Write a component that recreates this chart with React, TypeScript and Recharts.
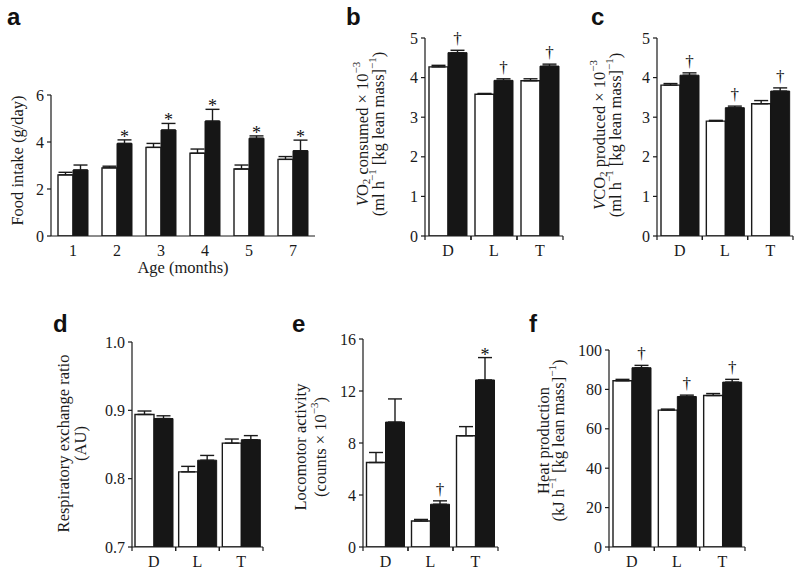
import React from 'react';
import { BarChart, Bar, XAxis, YAxis, ErrorBar, LabelList, Label } from 'recharts';

// panel a: food intake by age
const months = ['1', '2', '3', '4', '5', '7'];
const intakeCtrl = [2.6, 2.9, 3.77, 3.52, 2.85, 3.26];
const intakeCtrlErr = [0.11, 0.07, 0.17, 0.18, 0.17, 0.12];
const intakeTreat = [2.81, 3.94, 4.51, 4.89, 4.16, 3.63];
const intakeTreatErr = [0.21, 0.15, 0.28, 0.5, 0.1, 0.45];
const intakeMarks = ['', '*', '*', '*', '*', '*'];

// panels b-f: dark / light / total
const periods = ['D', 'L', 'T'];

const vo2Ctrl = [4.27, 3.58, 3.92];
const vo2CtrlErr = [0.04, 0.02, 0.05];
const vo2Treat = [4.63, 3.93, 4.29];
const vo2TreatErr = [0.06, 0.04, 0.05];
const vo2Marks = ['†', '†', '†'];

const vco2Ctrl = [3.81, 2.9, 3.34];
const vco2CtrlErr = [0.04, 0.02, 0.08];
const vco2Treat = [4.06, 3.24, 3.66];
const vco2TreatErr = [0.06, 0.04, 0.08];
const vco2Marks = ['†', '†', '†'];

const rerCtrl = [0.894, 0.81, 0.852];
const rerCtrlErr = [0.005, 0.008, 0.006];
const rerTreat = [0.888, 0.827, 0.857];
const rerTreatErr = [0.004, 0.007, 0.006];
const rerMarks = ['', '', ''];

const locoCtrl = [6.5, 2.0, 8.56];
const locoCtrlErr = [0.77, 0.12, 0.7];
const locoTreat = [9.61, 3.29, 12.85];
const locoTreatErr = [1.78, 0.26, 1.72];
const locoMarks = ['', '†', '*'];

const heatCtrl = [84.4, 69.5, 76.9];
const heatCtrlErr = [0.7, 0.5, 1.0];
const heatTreat = [91.0, 76.4, 83.7];
const heatTreatErr = [1.2, 0.7, 1.4];
const heatMarks = ['†', '†', '†'];

// axis titles, as segments: [text, style] where style is '', 'i', 'sub' or 'sup'
type Seg = [string, string];
const aTitle: Seg[][] = [[['Food intake (g/day)', '']]];
const bTitle: Seg[][] = [
  [['V', 'i'], ['O', ''], ['2', 'sub'], [' consumed × 10', ''], ['−3', 'sup']],
  [['(ml h', ''], ['−1', 'sup'], [' [kg lean mass]', ''], ['−1', 'sup'], [')', '']],
];
const cTitle: Seg[][] = [
  [['V', 'i'], ['CO', ''], ['2', 'sub'], [' produced × 10', ''], ['−3', 'sup']],
  [['(ml h', ''], ['−1', 'sup'], [' [kg lean mass]', ''], ['−1', 'sup'], [')', '']],
];
const dTitle: Seg[][] = [[['Respiratory exchange ratio', '']], [['(AU)', '']]];
const eTitle: Seg[][] = [[['Locomotor activity', '']], [['(counts × 10', ''], ['−3', 'sup'], [')', '']]];
const fTitle: Seg[][] = [
  [['Heat production', '']],
  [['(kJ h', ''], ['−1', 'sup'], [' [kg lean mass]', ''], ['−1', 'sup'], [')', '']],
];

const SERIF = '"Liberation Serif", "Times New Roman", serif';
const INK = '#1a1a1a';
const TICK_FS = 16;
const TITLE_FS = 16.5;

const rows = (cats: string[], c: number[], ce: number[], t: number[], te: number[], marks: string[]) =>
  cats.map((cat, i) => ({
    cat,
    ctrl: c[i],
    ctrlErr: [0, ce[i]],
    treat: t[i],
    treatErr: [0, te[i]],
    mark: marks[i],
  }));

const renderSegs = (segs: Seg[]) => {
  let shift = 0;
  return segs.map(([t, s], i) => {
    const target = s === 'sub' ? 4 : s === 'sup' ? -6 : 0;
    const dy = target - shift;
    shift = target;
    return (
      <tspan
        key={i}
        dy={dy}
        fontStyle={s === 'i' ? 'italic' : undefined}
        fontSize={s === 'sub' || s === 'sup' ? 11 : undefined}
      >
        {t}
      </tspan>
    );
  });
};

const markContent = (data: any[], base: number) => (props: any) => {
  const vb = props.viewBox || props;
  const { value, index } = props;
  if (!value) return null;
  const x = vb.x ?? props.x;
  const y = vb.y ?? props.y;
  const w = vb.width ?? props.width;
  const h = vb.height ?? props.height;
  const row = data[index];
  const ppu = h / (row.treat - base);
  const errTop = y - row.treatErr[1] * ppu;
  const isStar = value === '*';
  return (
    <text
      x={x + w / 2}
      y={errTop - (isStar ? -3 : 6)}
      textAnchor="middle"
      fontFamily={SERIF}
      fontSize={isStar ? 18 : 17}
      fill="#111"
    >
      {value}
    </text>
  );
};

const CatTick = (withEdges: boolean) => (props: any) => {
  const { x, y, payload, width, visibleTicksCount } = props;
  const half = payload.offset ?? width / visibleTicksCount / 2;
  return (
    <g>
      {withEdges && (
        <>
          <line x1={x - half} x2={x - half} y1={y} y2={y + 4} stroke={INK} strokeWidth={1.2} />
          <line x1={x + half} x2={x + half} y1={y} y2={y + 4} stroke={INK} strokeWidth={1.2} />
        </>
      )}
      <text x={x} y={y + 14} textAnchor="middle" dominantBaseline="central" fontFamily={SERIF} fontSize={TICK_FS} fill={INK}>
        {payload.value}
      </text>
    </g>
  );
};

interface PanelProps {
  data: any[];
  left: number;
  top: number;
  width: number;
  height: number;
  margin: { top: number; right: number; bottom: number; left: number };
  yWidth: number;
  xHeight: number;
  domain: [number, number];
  ticks: number[];
  tickFmt?: (v: number) => string;
  gap: number;
  base: number;
  edges: boolean;
  title: Seg[][];
  lineOffsets: number[];
  labelDy: number;
  xLabel?: string;
}

const Panel: React.FC<PanelProps> = (p) => {
  const yLabel = (props: any) => {
    const vb = props.viewBox;
    const plotLeft = vb.x + vb.width;
    const cy = vb.y + vb.height / 2 + p.labelDy;
    return (
      <g>
        {p.title.map((segs, i) => {
          const cx = plotLeft - p.lineOffsets[i];
          return (
            <text
              key={i}
              x={cx}
              y={cy}
              transform={`rotate(-90, ${cx}, ${cy})`}
              textAnchor="middle"
              dominantBaseline="central"
              fontFamily={SERIF}
              fontSize={TITLE_FS}
              fill={INK}
            >
              {renderSegs(segs)}
            </text>
          );
        })}
      </g>
    );
  };
  const xLabel = (props: any) => {
    const vb = props.viewBox;
    return (
      <text
        x={vb.x + vb.width / 2}
        y={vb.y + 31}
        textAnchor="middle"
        dominantBaseline="central"
        fontFamily={SERIF}
        fontSize={TITLE_FS}
        fill={INK}
      >
        {p.xLabel}
      </text>
    );
  };
  return (
    <div style={{ position: 'absolute', left: p.left, top: p.top }}>
      <BarChart width={p.width} height={p.height} data={p.data} margin={p.margin} barCategoryGap={p.gap} barGap={0}>
        <XAxis
          dataKey="cat"
          height={p.xHeight}
          tickLine={false}
          tickSize={0}
          tickMargin={0}
          axisLine={{ stroke: INK, strokeWidth: 1.2 }}
          tick={CatTick(p.edges)}
          interval={0}
        >
          {p.xLabel && <Label content={xLabel} />}
        </XAxis>
        <YAxis
          width={p.yWidth}
          domain={p.domain}
          ticks={p.ticks}
          tickFormatter={p.tickFmt}
          interval={0}
          tickSize={4}
          tickMargin={3}
          tickLine={{ stroke: INK, strokeWidth: 1.2 }}
          axisLine={{ stroke: INK, strokeWidth: 1.2 }}
          tick={{ fontFamily: SERIF, fontSize: TICK_FS, fill: INK }}
          allowDataOverflow
        >
          <Label content={yLabel} />
        </YAxis>
        <Bar dataKey="ctrl" fill="#ffffff" stroke={INK} strokeWidth={1.4} isAnimationActive={false}>
          <ErrorBar dataKey="ctrlErr" direction="y" width={7} stroke={INK} strokeWidth={1.4} />
        </Bar>
        <Bar dataKey="treat" fill="#161616" stroke="#161616" strokeWidth={1} isAnimationActive={false}>
          <ErrorBar dataKey="treatErr" direction="y" width={7} stroke={INK} strokeWidth={1.4} />
          <LabelList dataKey="mark" content={markContent(p.data, p.base)} />
        </Bar>
      </BarChart>
    </div>
  );
};

const Letter = ({ x, y, ch }: { x: number; y: number; ch: string }) => (
  <text x={x} y={y} fontFamily='"Liberation Sans", Arial, sans-serif' fontWeight="bold" fontSize={24} fill="#111">
    {ch}
  </text>
);

export default function App() {
  const aData = rows(months, intakeCtrl, intakeCtrlErr, intakeTreat, intakeTreatErr, intakeMarks);
  const bData = rows(periods, vo2Ctrl, vo2CtrlErr, vo2Treat, vo2TreatErr, vo2Marks);
  const cData = rows(periods, vco2Ctrl, vco2CtrlErr, vco2Treat, vco2TreatErr, vco2Marks);
  const dData = rows(periods, rerCtrl, rerCtrlErr, rerTreat, rerTreatErr, rerMarks);
  const eData = rows(periods, locoCtrl, locoCtrlErr, locoTreat, locoTreatErr, locoMarks);
  const fData = rows(periods, heatCtrl, heatCtrlErr, heatTreat, heatTreatErr, heatMarks);

  return (
    <div style={{ position: 'absolute', left: 0, top: 0, width: 800, height: 575, background: '#fff', overflow: 'hidden' }}>
      <Panel
        data={aData}
        left={0}
        top={60}
        width={330}
        height={230}
        margin={{ top: 35, right: 15, bottom: 0, left: 0 }}
        yWidth={51}
        xHeight={54}
        domain={[0, 6]}
        ticks={[0, 2, 4, 6]}
        gap={7}
        base={0}
        edges={false}
        title={aTitle}
        lineOffsets={[34]}
        labelDy={-5}
        xLabel="Age (months)"
      />
      <Panel
        data={bData}
        left={340}
        top={0}
        width={240}
        height={290}
        margin={{ top: 38, right: 17, bottom: 24, left: 0 }}
        yWidth={85}
        xHeight={30}
        domain={[0, 5]}
        ticks={[0, 1, 2, 3, 4, 5]}
        gap={4}
        base={0}
        edges={true}
        title={bTitle}
        lineOffsets={[63, 47]}
        labelDy={-3}
      />
      <Panel
        data={cData}
        left={575}
        top={0}
        width={225}
        height={290}
        margin={{ top: 38, right: 7, bottom: 24, left: 0 }}
        yWidth={82}
        xHeight={30}
        domain={[0, 5]}
        ticks={[0, 1, 2, 3, 4, 5]}
        gap={4}
        base={0}
        edges={true}
        title={cTitle}
        lineOffsets={[58, 42]}
        labelDy={-2}
      />
      <Panel
        data={dData}
        left={40}
        top={300}
        width={240}
        height={275}
        margin={{ top: 42, right: 17, bottom: 0, left: 0 }}
        yWidth={92}
        xHeight={28}
        domain={[0.7, 1.0]}
        ticks={[0.7, 0.8, 0.9, 1.0]}
        tickFmt={(v) => v.toFixed(1)}
        gap={3}
        base={0.7}
        edges={true}
        title={dTitle}
        lineOffsets={[69, 52]}
        labelDy={-1}
      />
      <Panel
        data={eData}
        left={290}
        top={300}
        width={225}
        height={275}
        margin={{ top: 39, right: 17, bottom: 0, left: 0 }}
        yWidth={73}
        xHeight={28}
        domain={[0, 16]}
        ticks={[0, 4, 8, 12, 16]}
        gap={3.5}
        base={0}
        edges={true}
        title={eTitle}
        lineOffsets={[63, 43]}
        labelDy={4}
      />
      <Panel
        data={fData}
        left={520}
        top={300}
        width={280}
        height={275}
        margin={{ top: 50, right: 55, bottom: 0, left: 0 }}
        yWidth={89}
        xHeight={28}
        domain={[0, 100]}
        ticks={[0, 20, 40, 60, 80, 100]}
        gap={4}
        base={0}
        edges={true}
        title={fTitle}
        lineOffsets={[66, 51]}
        labelDy={-8}
      />
      <svg width={800} height={575} style={{ position: 'absolute', left: 0, top: 0, pointerEvents: 'none' }}>
        <Letter x={7} y={25} ch="a" />
        <Letter x={346} y={25} ch="b" />
        <Letter x={591} y={25} ch="c" />
        <Letter x={53} y={332} ch="d" />
        <Letter x={292} y={332} ch="e" />
        <Letter x={529} y={332} ch="f" />
      </svg>
    </div>
  );
}
